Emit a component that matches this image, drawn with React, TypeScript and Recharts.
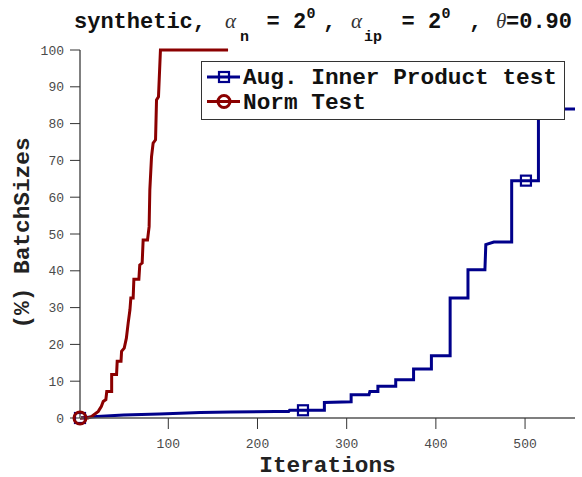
import { LineChart, Line, XAxis, YAxis, Legend } from 'recharts'

// Aug. Inner Product test (batch size in %)
const blueIter = [1, 20, 50, 90, 136, 170, 220, 235, 236, 251, 275, 275, 305, 305, 325, 326, 335, 335, 355, 355, 375, 375, 395, 395, 416, 416, 436, 436, 455, 456, 465, 485, 485, 501, 515, 515, 556]
const blueSize = [0, 0.4, 0.8, 1.1, 1.5, 1.6, 1.8, 1.8, 2.1, 2.1, 2.1, 4.2, 4.4, 6.3, 6.3, 7.2, 7.2, 8.6, 8.6, 10.4, 10.4, 13.3, 13.3, 16.9, 16.9, 32.6, 32.6, 40.3, 40.3, 47.1, 47.8, 47.8, 64.5, 64.5, 64.5, 84, 84]

// Norm Test
const redIter = [1, 10, 14, 21.5, 25, 27, 30, 31, 36.5, 36.5, 42, 42.7, 47, 47.6, 50.6, 53, 55, 57, 58, 60.6, 61.4, 67, 68, 70.7, 71.8, 76.7, 78.5, 79.3, 81.2, 83, 85.7, 86.8, 89, 91.2, 167]
const redSize = [0, 0, 0.4, 1.8, 3.2, 4.5, 5, 7.2, 7.2, 11.8, 11.8, 15.4, 15.4, 18.1, 19, 21.7, 25.8, 29.4, 32.6, 32.6, 37.7, 37.7, 41.6, 42.1, 48.4, 48.4, 52, 62, 71, 74.7, 75.6, 86.4, 87.3, 100, 100]

// iterations where markers are drawn
const markerIters = [1, 251, 501]

const xTicks = [100, 200, 300, 400, 500]
const yTicks = [0, 10, 20, 30, 40, 50, 60, 70, 80, 90, 100]

const NAVY = '#00008b'
const MAROON = '#8b0000'
const MONO = '"Liberation Mono", "Courier New", monospace'
const SERIF = '"Liberation Serif", "Times New Roman", serif'

const blueData = blueIter.map((iter, i) => ({ iter, size: blueSize[i] }))
const redData = redIter.map((iter, i) => ({ iter, size: redSize[i] }))

const tickStyle = { fontFamily: MONO, fontSize: 13, fill: '#4a4a4a' }

function markerDot(kind: 'square' | 'circle', color: string) {
  return (props: any) => {
    const { cx, cy, payload, index } = props
    if (!markerIters.includes(payload.iter)) return <g key={index} />
    if (kind === 'square')
      return <rect key={index} x={cx - 5} y={cy - 5} width={10} height={10} fill="none" stroke={color} strokeWidth={2.2} />
    return <circle key={index} cx={cx} cy={cy} r={6} fill="none" stroke={color} strokeWidth={3} />
  }
}

function LegendBox({ payload }: any) {
  const items = payload || []
  return (
    <svg width={364} height={59} style={{ display: 'block' }}>
      <rect x={0.5} y={0.5} width={363} height={58} fill="#fff" stroke="#333" />
      {items.map((p: any, i: number) => {
        const cy = 16 + i * 24.5
        return (
          <g key={p.value}>
            <line x1={6} x2={39} y1={cy} y2={cy} stroke={p.color} strokeWidth={3} />
            {i === 0 ? (
              <rect x={18} y={cy - 5} width={10} height={10} fill="none" stroke={p.color} strokeWidth={2.2} />
            ) : (
              <circle cx={23} cy={cy} r={6} fill="none" stroke={p.color} strokeWidth={3} />
            )}
            <text x={42} y={cy + 7} fontFamily={MONO} fontWeight="bold" fontSize={22.75} fill="#111">
              {p.value}
            </text>
          </g>
        )
      })}
    </svg>
  )
}

function Title() {
  const main = { fontFamily: MONO, fontWeight: 'bold' as const, fontSize: 22, fill: '#111' }
  const small = { fontFamily: MONO, fontWeight: 'bold' as const, fontSize: 15, fill: '#111' }
  const greek = { fontFamily: SERIF, fontStyle: 'italic' as const, fontSize: 21, fill: '#333' }
  return (
    <svg width={582} height={48} style={{ position: 'absolute', left: 0, top: 0 }}>
      <text x={74} y={28} {...main}>synthetic,</text>
      <text x={225} y={28} {...greek}>α</text>
      <text x={240} y={41} {...small}>n</text>
      <text x={266.5} y={28} {...main} style={{ whiteSpace: 'pre' }}>= 2</text>
      <text x={306.5} y={18} {...small}>0</text>
      <text x={323} y={28} {...main}>,</text>
      <text x={351} y={28} {...greek}>α</text>
      <text x={364} y={41} {...small}>ip</text>
      <text x={401.5} y={28} {...main} style={{ whiteSpace: 'pre' }}>= 2</text>
      <text x={441.5} y={18} {...small}>0</text>
      <text x={469} y={28} {...main}>,</text>
      <text x={496} y={28} {...greek}>θ</text>
      <text x={506} y={28} {...main}>=0.90</text>
    </svg>
  )
}

export default function App() {
  return (
    <div style={{ position: 'absolute', left: 0, top: 0, width: 582, height: 477, background: '#fff' }}>
      <LineChart width={582} height={477} margin={{ top: 50, right: 7, bottom: 29, left: 40 }} style={{ overflow: 'visible' }}>
        <XAxis
          xAxisId="b"
          dataKey="iter"
          type="number"
          domain={[1, 556]}
          ticks={xTicks}
          height={30}
          tickSize={11}
          tickMargin={10}
          tick={tickStyle}
          axisLine={{ stroke: '#555', strokeWidth: 1.5 }}
          tickLine={{ stroke: '#333' }}
          label={(props: any) => {
            const vb = props.viewBox
            return (
              <text x={vb.x + vb.width / 2} y={vb.y + vb.height + 24} textAnchor="middle" fontFamily={MONO} fontWeight="bold" fontSize={22.75} fill="#222">
                Iterations
              </text>
            )
          }}
        />
        <XAxis
          xAxisId="t"
          orientation="top"
          type="number"
          domain={[1, 556]}
          ticks={xTicks}
          height={0}
          tickSize={8}
          tick={false}
          axisLine={{ stroke: '#333' }}
          tickLine={{ stroke: '#333' }}
        />
        <YAxis
          yAxisId="l"
          type="number"
          domain={[0, 100]}
          ticks={yTicks}
          width={40}
          tickSize={10}
          tickMargin={6}
          tick={tickStyle}
          axisLine={{ stroke: '#808080', strokeWidth: 2 }}
          tickLine={{ stroke: '#333' }}
          label={(props: any) => {
            const vb = props.viewBox
            const x = vb.x - 11.5
            const y = vb.y + vb.height / 2 - 1
            return (
              <text x={x} y={y} transform={`rotate(-90 ${x} ${y})`} textAnchor="middle" fontFamily={MONO} fontWeight="bold" fontSize={22.75} fill="#222">
                (%) BatchSizes
              </text>
            )
          }}
        />
        <YAxis
          yAxisId="r"
          orientation="right"
          type="number"
          domain={[0, 100]}
          ticks={yTicks}
          width={0}
          tickSize={8}
          tick={false}
          axisLine={{ stroke: '#808080', strokeWidth: 2 }}
          tickLine={{ stroke: '#333' }}
        />
        <Legend
          layout="vertical"
          align="center"
          verticalAlign="middle"
          content={<LegendBox />}
          wrapperStyle={{ position: 'absolute', left: 201, top: 61, width: 364, height: 59 }}
        />
        <Line
          xAxisId="b"
          yAxisId="l"
          data={blueData}
          dataKey="size"
          name="Aug. Inner Product test"
          type="linear"
          stroke={NAVY}
          strokeWidth={3}
          dot={markerDot('square', NAVY)}
          activeDot={false}
          isAnimationActive={false}
        />
        <Line
          xAxisId="b"
          yAxisId="l"
          data={redData}
          dataKey="size"
          name="Norm Test"
          type="linear"
          stroke={MAROON}
          strokeWidth={3}
          dot={markerDot('circle', MAROON)}
          activeDot={false}
          isAnimationActive={false}
        />
      </LineChart>
      <Title />
    </div>
  )
}
